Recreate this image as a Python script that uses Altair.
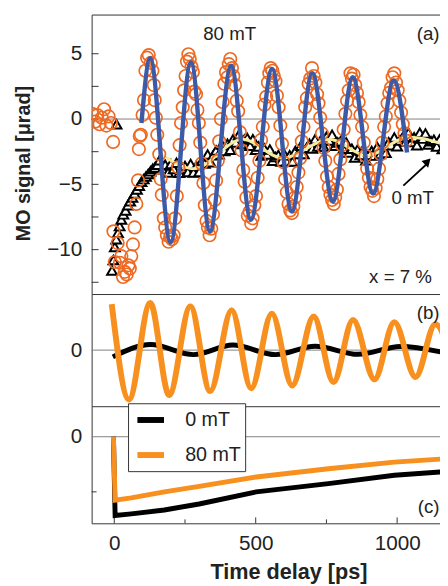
import altair as alt
import pandas as pd

FONT = "Liberation Sans"

# ---------------- Panel (a): 80 mT data (open circles) ----------------
circ_t = [-78, -68, -60, -52, -44, -36, -28, -20, -12, -4,
          -3, 2, 12, 20, 25, 31, 37, 44, 50, 55, 60, 66, 72, 78, 84, 87, 90, 94, 100, 105, 110, 116, 122,
          129, 135, 140, 143, 147, 152, 159, 164, 168, 175, 180, 186, 192, 198, 204, 210,
          215, 221, 226, 231, 236, 242, 247, 252, 257, 262, 267, 273,
          278, 283, 289, 294, 299, 304, 309, 315, 320, 326, 331, 337, 343,
          349, 355, 360, 366, 371, 377, 383, 389, 395, 400, 405, 410, 416,
          421, 427, 433, 438, 444, 450, 456, 461, 467, 472, 478, 484, 489,
          495, 501, 507, 513, 519, 525, 531, 537, 543, 548, 553, 559, 564,
          570, 575, 581, 587, 593, 598, 604, 610, 616, 622, 628, 633,
          639, 645, 651, 657, 663, 669, 675, 681, 687, 693, 699, 705,
          711, 717, 722, 728, 734, 740, 746, 752, 758, 764, 770, 776, 781,
          787, 793, 799, 805, 811, 817, 823, 829, 835, 840, 846, 852,
          858, 864, 870, 876, 882, 888, 894, 900, 906, 912, 918, 924,
          930, 936, 942, 948, 954, 960, 966, 972, 978, 984, 990, 996,
          1002, 1008, 1014, 1020, 1026, 1032]
circ_v = [0.4, -0.2, 0.3, -0.4, 0.1, 0.75, -0.5, 0.2, -0.3, -1.75,
          -8.6, -10.95, -9.5, -11.0, -10.5, -12.1, -11.7, -11.9, -11.2, -11.45, -10.5, -9.6, -8.3, -6.5, -4.7, -2.3, -1.3, -1.2, 0.3, 1.45, 3.7, 4.7, 4.9,
          4.3, 3.7, 2.6, 1.45, 0.1, -1.2, -2.7, -4.6, -5.8, -7.6, -8.3, -8.9, -9.4, -9.0, -9.2, -8.9,
          -7.6, -5.9, -3.7, -2.0, -0.3, 0.9, 2.2, 3.3, 4.4, 4.96, 4.6, 4.0,
          3.6, 2.1, 1.9, 0.7, -0.3, -1.8, -3.4, -4.9, -6.6, -7.8, -8.3, -8.9, -8.4,
          -7.3, -6.2, -4.7, -3.2, -1.7, 0.0, 1.3, 2.7, 3.6, 3.2, 4.2, 4.6, 3.9,
          3.3, 2.6, 1.4, 0.6, -1.0, -2.4, -3.9, -4.8, -6.0, -7.4, -7.1, -8.0, -7.6,
          -6.6, -5.9, -4.5, -3.2, -1.6, -0.6, 1.1, 1.7, 2.8, 3.5, 3.9, 3.7, 3.3,
          2.9, 1.8, 0.9, -0.5, -1.9, -3.3, -4.6, -5.6, -6.5, -7.0, -7.2, -6.7,
          -6.0, -5.2, -4.1, -3.0, -1.7, -0.6, 0.9, 1.6, 2.7, 3.1, 3.9, 3.3,
          2.8, 1.9, 1.2, 0.1, -1.1, -2.2, -3.2, -4.4, -5.2, -5.8, -6.2, -6.5, -6.0,
          -5.4, -4.2, -3.1, -2.0, -0.8, 0.4, 1.4, 2.2, 3.5, 3.1, 3.4, 2.6,
          2.0, 1.3, 0.3, -0.6, -1.8, -2.8, -3.8, -4.5, -5.2, -5.5, -5.9, -5.3,
          -4.6, -3.8, -2.7, -1.8, -0.6, 0.2, 1.2, 2.0, 2.4, 3.2, 3.5, 2.8,
          2.2, 1.4, 0.5, -0.4, -1.1, -1.65]

# ---------------- Panel (a): 0 mT data (open triangles) ----------------
tri_t = [8,
         -8, -3, 2, 7, 13, 19, 25, 32, 40, 48, 56, 64, 72, 80, 88, 96, 104, 112, 120, 128, 136, 144, 152,
         160, 170, 180, 190, 200, 210, 220, 230, 240, 250, 260, 270, 280, 290, 300, 310, 320, 330, 340, 350,
         360, 370, 380, 390, 400, 410, 420, 430, 440, 450, 460, 470, 480, 490, 500, 510, 520, 530, 540, 550,
         560, 570, 580, 590, 600, 610, 620, 630, 640, 650, 660, 670, 680, 690, 700, 710, 720, 730, 740, 750,
         760, 770, 780, 790, 800, 810, 820, 830, 840, 850, 860, 870, 880, 890, 900, 910, 920, 930, 940, 950,
         960, 970, 980, 990, 1000, 1010, 1020, 1030, 1040, 1050, 1060, 1070, 1080, 1090, 1100, 1110, 1120,
         1130, 1140, 1150, 1160, 1170]
tri_v = [-0.4,
         -11.6, -10.8, -9.8, -9.2, -8.7, -8.2, -7.7, -7.3, -7.0, -6.6, -6.3, -6.0, -5.7, -5.4, -5.1, -4.8, -4.6, -4.4, -4.2, -4.0, -3.8, -3.7, -3.5,
         -3.15, -3.85, -3.5, -4.1, -3.45, -3.82, -3.35, -4.12, -3.8, -3.6, -4.05, -3.45, -4.1, -3.6, -4.05, -3.2, -3.4, -2.72, -3.3, -2.78,
         -2.4, -2.7, -1.95, -2.45, -1.9, -2.35, -1.55, -1.8, -1.22, -1.91, -1.56, -1.45, -2.05, -1.55, -2.35, -2.1, -2.8, -2.25, -2.72, -2.34,
         -3.2, -2.9, -2.75, -3.25, -2.65, -3.25, -2.78, -3.25, -2.45, -2.68, -2.05, -2.67, -2.2, -1.9, -2.25, -1.55, -2.1, -1.62, -2.11, -1.35,
         -1.65, -1.2, -2.05, -1.8, -1.7, -2.27, -1.79, -2.56, -2.28, -2.95, -2.33, -2.76, -2.34, -3.15, -2.75, -2.45, -2.8, -2.15, -2.68, -2.16,
         -2.59, -1.77, -2.0, -1.42, -2.09, -1.65, -1.37, -1.73, -1.05, -1.75, -1.4, -2.0, -1.05, -1.5, -1.1, -1.95, -1.7,
         -1.58, -2.1, -1.57, -2.3, -1.95]

# fit curves of panel (a) (extrema)
fit80_t = [96, 127, 199, 271, 338, 413, 483, 558, 628, 700, 773, 843, 915, 988, 1035]
fit80_v = [-0.3, 4.66, -9.45, 4.33, -8.6, 4.08, -7.7, 3.83, -7.07, 3.5, -6.3, 3.2, -5.7, 2.96, -2.56]
fit0_t = [160, 281, 455, 595, 762, 893, 1040, 1200]
fit0_v = [-2.6, -3.8, -1.55, -3.0, -1.55, -2.8, -1.4, -2.2]

# ---------------- Panel (b): oscillatory parts ----------------
b80_t = [-9, 52, 127, 194, 269, 339, 415, 484, 557, 629, 705, 775, 844, 920, 990, 1065, 1135, 1205]
b80_v = [0.82, -0.88, 0.84, -0.80, 0.78, -0.73, 0.71, -0.68, 0.65, -0.63, 0.60, -0.57, 0.54, -0.52, 0.50, -0.48, 0.46, -0.44]
b0_t = [-5, 129, 280, 419, 570, 710, 862, 1012, 1180]
b0_v = [-0.12, 0.10, -0.08, 0.09, -0.08, 0.07, -0.075, 0.065, -0.06]

# ---------------- Panel (c): background parts ----------------
c80_t = [-3, 3, 60, 177, 300, 502, 757, 990, 1200]
c80_v = [0.0, -1.15, -1.11, -1.0, -0.9, -0.73, -0.58, -0.46, -0.39]
c0_t = [-3, 3, 60, 177, 300, 502, 757, 990, 1200]
c0_v = [0.0, -1.43, -1.40, -1.33, -1.22, -1.0, -0.85, -0.70, -0.62]

# axis tick values
x_labels = [0, 500, 1000]
x_ticks_major = [0, 500, 1000]
x_ticks_minor = [250, 750]
ya_labels = [-10, -5, 0, 5]
ya_ticks = [-12.5, -10, -7.5, -5, -2.5, 0, 2.5, 5]
yc_ticks = [-1]

series = ["0 mT", "80 mT"]
ORANGE_LINE = "#F7901E"
ORANGE_CIRC = "#EE6A22"
BLUE = "#3D5AA8"
YELLOW = "#F4EC9E"
FRAME = "#333333"

X_DOM = [-80, 1155]
W = 355
HA, HB, HC = 284, 114, 119

xs = alt.Scale(domain=X_DOM, nice=False, zero=False)
ya = alt.Scale(domain=[-13.4, 8.0], nice=False, zero=False)
yb = alt.Scale(domain=[-1.0, 1.0], nice=False, zero=False)
yc = alt.Scale(domain=[-1.571, 0.554], nice=False, zero=False)

ydom = dict(domain=True, domainColor=FRAME, domainWidth=1)
axA = alt.Axis(values=ya_labels, labelPadding=10, labelFontSize=21, title="MO signal [μrad]",
               titleFontSize=20, titleFontWeight="bold", titleX=-59, titleY=151,
               titleBaseline="bottom", titleAlign="center", **ydom)
axB = alt.Axis(values=[0], labelPadding=10, labelFontSize=21, title=None, **ydom)
axC_y = alt.Axis(values=[0], labelPadding=10, labelFontSize=21, title=None, **ydom)
frame_top = alt.Axis(orient="top", labels=False, title=None, **ydom)
frame_bottom = alt.Axis(orient="bottom", labels=False, title=None, **ydom)
axC_x = alt.Axis(values=x_labels, format="d", labelPadding=10, labelFontSize=21, title="Time delay [ps]",
                 titleFontSize=22, titleFontWeight="bold", titlePadding=8, titleX=200,
                 titleAlign="center", **ydom)

XA = alt.X("t:Q", scale=xs, axis=frame_top)
YA = alt.Y("v:Q", scale=ya, axis=axA)

df_circ = pd.DataFrame({"t": circ_t, "v": circ_v})
df_tri = pd.DataFrame({"t": tri_t, "v": tri_v})
df_f80 = pd.DataFrame({"t": fit80_t, "v": fit80_v})
df_f0 = pd.DataFrame({"t": fit0_t, "v": fit0_v})

zero_a = alt.Chart(pd.DataFrame({"v": [0]})).mark_rule(color="#808080", strokeWidth=1).encode(y=YA)
ticks_a = alt.Chart(pd.DataFrame({"v": ya_ticks})).mark_rule(color=FRAME, strokeWidth=1).encode(
    y=YA, x=alt.value(0), x2=alt.value(7))
tri = alt.Chart(df_tri).mark_point(shape="triangle-up", filled=True, fill="white", stroke="black",
                                   strokeWidth=2, size=100, opacity=1, clip=True).encode(x=XA, y=YA)
yel = alt.Chart(df_f0).mark_line(color=YELLOW, strokeWidth=3, interpolate="monotone", clip=True).encode(x=XA, y=YA)
circ = alt.Chart(df_circ).mark_point(shape="circle", filled=False, stroke=ORANGE_CIRC,
                                     strokeWidth=1.7, size=160, opacity=1, clip=True).encode(x=XA, y=YA)
blue = alt.Chart(df_f80).mark_line(color=BLUE, strokeWidth=4.5, interpolate="monotone", clip=True).encode(x=XA, y=YA)

arrow_line = alt.Chart(pd.DataFrame({"t": [1022, 1102], "v": [-5.1, -3.5]})).mark_line(
    color="black", strokeWidth=1.8).encode(x=XA, y=YA)
arrow_head = alt.Chart(pd.DataFrame({"t": [1108], "v": [-3.25]})).mark_point(
    shape="triangle-up", filled=True, color="black", size=90, angle=45, opacity=1).encode(x=XA, y=YA)

ann_a = pd.DataFrame({"t": [408, 1012, 1055], "v": [6.48, -12.13, -6.08],
                      "label": ["80 mT", "x = 7 %", "0 mT"]})
text_a = alt.Chart(ann_a).mark_text(font=FONT, fontSize=19, color="#222", baseline="middle",
                                    align="center").encode(x=XA, y=YA, text="label:N")
tag_a = alt.Chart(pd.DataFrame({"t": [1150], "v": [6.48], "label": ["(a)"]})).mark_text(
    font=FONT, fontSize=19, color="#222", baseline="middle", align="right").encode(x=XA, y=YA, text="label:N")

panel_a = alt.layer(zero_a, ticks_a, tri, yel, circ, blue, arrow_line, arrow_head, text_a, tag_a).properties(
    width=W, height=HA)

# legend / colour
leg = alt.Legend(title=None, orient="none", legendX=37, legendY=395, symbolType="M-1.35,0L1.35,0",
                 symbolStrokeWidth=6, symbolSize=400, symbolOffset=6, labelFontSize=20, labelFont=FONT,
                 labelColor="#222", strokeColor=FRAME, fillColor="white", padding=4,
                 rowPadding=10.6, labelOffset=22, labelExpr="datum.label + '\u2002'")
col = alt.Color("s:N", scale=alt.Scale(domain=series, range=["#000000", ORANGE_LINE]), legend=leg)

YB = alt.Y("v:Q", scale=yb, axis=axB)
df_b0 = pd.DataFrame({"t": b0_t, "v": b0_v, "s": series[0]})
df_b80 = pd.DataFrame({"t": b80_t, "v": b80_v, "s": series[1]})
zero_b = alt.Chart(pd.DataFrame({"v": [0]})).mark_rule(color="#808080", strokeWidth=1).encode(y=YB)
line_b0 = alt.Chart(df_b0).mark_line(strokeWidth=5, interpolate="monotone", clip=True).encode(
    x=alt.X("t:Q", scale=xs, axis=frame_top), y=YB, color=col)
line_b80 = alt.Chart(df_b80).mark_line(strokeWidth=6, interpolate="monotone", clip=True).encode(
    x=alt.X("t:Q", scale=xs, axis=frame_bottom), y=YB, color=col)
text_b = alt.Chart(pd.DataFrame({"t": [1150], "v": [0.66], "label": ["(b)"]})).mark_text(
    font=FONT, fontSize=19, color="#222", baseline="middle", align="right").encode(
    x=alt.X("t:Q", scale=xs, axis=None), y=YB, text="label:N")
panel_b = alt.layer(zero_b, line_b0, line_b80, text_b).resolve_axis(x="independent").properties(
    width=W, height=HB)

XC = alt.X("t:Q", scale=xs, axis=axC_x)
YC = alt.Y("v:Q", scale=yc, axis=axC_y)
df_c0 = pd.DataFrame({"t": c0_t, "v": c0_v, "s": series[0]})
df_c80 = pd.DataFrame({"t": c80_t, "v": c80_v, "s": series[1]})
zero_c = alt.Chart(pd.DataFrame({"v": [0]})).mark_rule(color="#808080", strokeWidth=1).encode(y=YC)
ticks_cy = alt.Chart(pd.DataFrame({"v": yc_ticks})).mark_rule(color=FRAME, strokeWidth=1).encode(
    y=YC, x=alt.value(0), x2=alt.value(5))
ticks_cx1 = alt.Chart(pd.DataFrame({"t": x_ticks_major})).mark_rule(color=FRAME, strokeWidth=1).encode(
    x=XC, y=alt.value(HC), y2=alt.value(HC - 6))
ticks_cx2 = alt.Chart(pd.DataFrame({"t": x_ticks_minor})).mark_rule(color=FRAME, strokeWidth=1).encode(
    x=XC, y=alt.value(HC), y2=alt.value(HC - 4))
line_c0 = alt.Chart(df_c0).mark_line(strokeWidth=5, clip=True).encode(x=XC, y=YC, color=col)
line_c80 = alt.Chart(df_c80).mark_line(strokeWidth=5, clip=True).encode(x=XC, y=YC, color=col)
text_c = alt.Chart(pd.DataFrame({"t": [1150], "v": [-1.27], "label": ["(c)"]})).mark_text(
    font=FONT, fontSize=19, color="#222", baseline="middle", align="right").encode(x=XC, y=YC, text="label:N")
panel_c = alt.layer(zero_c, ticks_cy, ticks_cx1, ticks_cx2, line_c0, line_c80, text_c).properties(
    width=W, height=HC)

chart = alt.vconcat(panel_a, panel_b, panel_c, spacing=0).properties(
    padding={"left": 6, "top": 2, "right": -2, "bottom": -3}
).configure_view(stroke="transparent", strokeWidth=0).configure_axis(
    grid=False, ticks=False, domain=False, labelFont=FONT, titleFont=FONT,
    labelColor="#222", titleColor="#222"
).configure_concat(spacing=0)

chart.save("out.html", embed_options={"renderer": "svg", "actions": False})
